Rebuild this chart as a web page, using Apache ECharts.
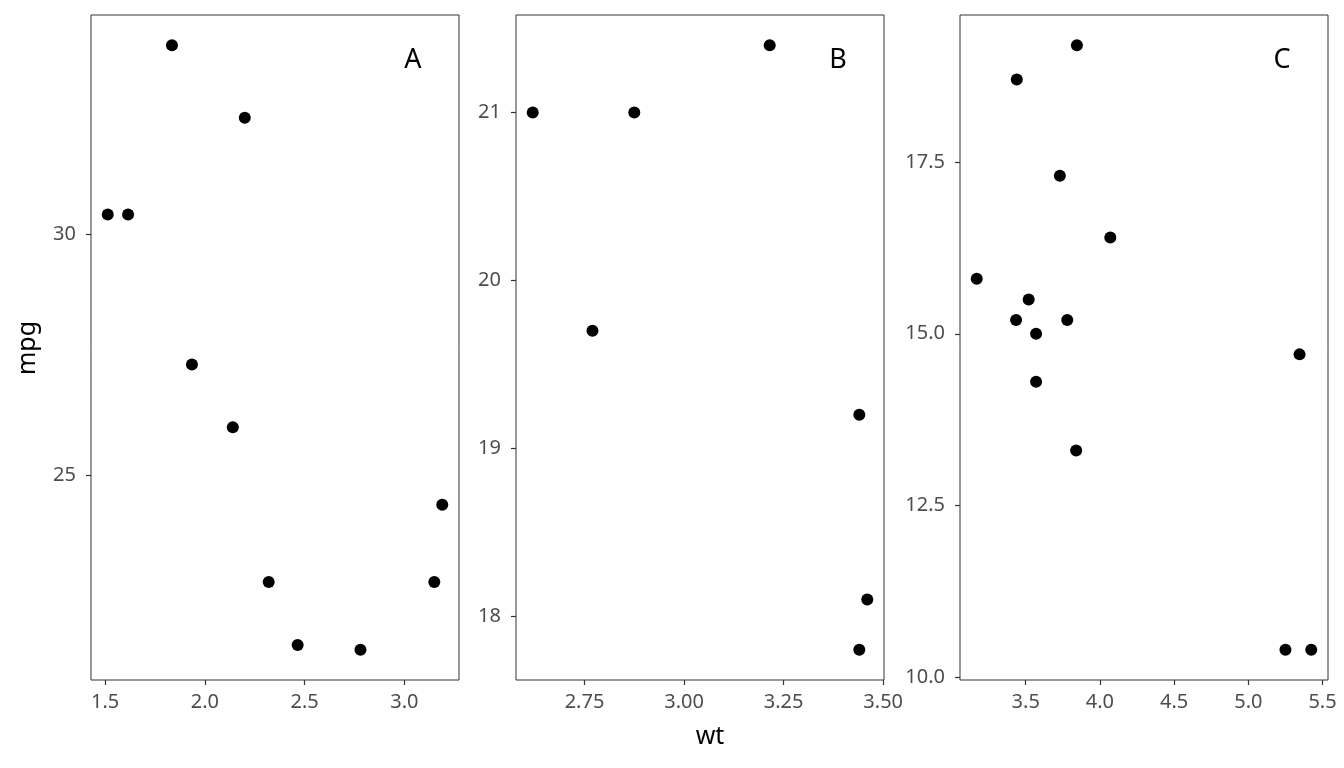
<!DOCTYPE html>
<html>
<head>
<meta charset="utf-8">
<script src="https://cdn.jsdelivr.net/npm/echarts@6/dist/echarts.min.js"></script>
<style>
  html, body { margin: 0; padding: 0; background: #fff; }
  #container { width: 1344px; height: 768px; }
</style>
</head>
<body>
<div id="container"></div>
<script>
// mtcars, wt vs mpg, one panel per cylinder group
var wtA = [2.32, 3.19, 3.15, 2.2, 1.615, 1.835, 2.465, 1.935, 2.14, 1.513, 2.78];
var mpgA = [22.8, 24.4, 22.8, 32.4, 30.4, 33.9, 21.5, 27.3, 26.0, 30.4, 21.4];
var wtB = [2.62, 2.875, 3.215, 3.46, 3.44, 3.44, 2.77];
var mpgB = [21.0, 21.0, 21.4, 18.1, 19.2, 17.8, 19.7];
var wtC = [3.44, 3.57, 4.07, 3.73, 3.78, 5.25, 5.424, 5.345, 3.52, 3.435, 3.84, 3.845, 3.17, 3.57];
var mpgC = [18.7, 14.3, 16.4, 17.3, 15.2, 10.4, 10.4, 14.7, 15.5, 15.2, 13.3, 19.2, 15.8, 15.0];
var panelNames = ['A', 'B', 'C'];

var xTicksA = [1.5, 2.0, 2.5, 3.0];
var yTicksA = [25, 30];
var xTicksB = [2.75, 3.00, 3.25, 3.50];
var yTicksB = [18, 19, 20, 21];
var xTicksC = [3.5, 4.0, 4.5, 5.0, 5.5];
var yTicksC = [10.0, 12.5, 15.0, 17.5];

var myChart = echarts.init(document.getElementById('container'));
var font = '"Noto Sans", "Open Sans", sans-serif';

// ggplot style 5% expansion on each side
function range(arr) {
  var lo = Math.min.apply(null, arr), hi = Math.max.apply(null, arr);
  var pad = (hi - lo) * 0.05;
  return [lo - pad, hi + pad];
}
function zip(xs, ys) {
  var out = [];
  for (var i = 0; i < xs.length; i++) out.push([xs[i], ys[i]]);
  return out;
}

var panels = [
  { wt: wtA, mpg: mpgA, xt: xTicksA, yt: yTicksA, xd: 1, yd: 0, left: 91 },
  { wt: wtB, mpg: mpgB, xt: xTicksB, yt: yTicksB, xd: 2, yd: 0, left: 516 },
  { wt: wtC, mpg: mpgC, xt: xTicksC, yt: yTicksC, xd: 1, yd: 1, left: 960 }
];

var grids = [], xAxes = [], yAxes = [], series = [], graphics = [];
panels.forEach(function (p, i) {
  var xr = range(p.wt), yr = range(p.mpg);
  grids.push({
    left: p.left, top: 15, width: 368, height: 665,
    show: true, borderColor: '#333', borderWidth: 1, backgroundColor: '#fff'
  });
  var common = function (ticks, dec, margin) {
    return {
      axisLine: { show: false },
      splitLine: { show: false },
      axisTick: { show: true, length: 5, customValues: ticks, lineStyle: { color: '#333', width: 1.2 } },
      axisLabel: {
        customValues: ticks, color: '#4d4d4d', fontSize: 20, fontFamily: font, margin: margin,
        formatter: function (v) { return Number(v).toFixed(dec); }
      }
    };
  };
  xAxes.push(Object.assign({ type: 'value', gridIndex: i, min: xr[0], max: xr[1] }, common(p.xt, p.xd, 12)));
  yAxes.push(Object.assign({ type: 'value', gridIndex: i, min: yr[0], max: yr[1] }, common(p.yt, p.yd, 15)));
  series.push({
    type: 'scatter', xAxisIndex: i, yAxisIndex: i,
    symbolSize: 12, itemStyle: { color: '#000', opacity: 1 },
    data: zip(p.wt, p.mpg)
  });
  graphics.push({
    type: 'text', x: p.left + 368 - 46, y: 60,
    style: { text: panelNames[i], fontSize: 27, fontFamily: font, fill: '#000', align: 'center', verticalAlign: 'middle' }
  });
});

graphics.push({
  type: 'text', x: 710, y: 737,
  style: { text: 'wt', fontSize: 25, fontFamily: font, fill: '#000', align: 'center', verticalAlign: 'middle' }
});
graphics.push({
  type: 'text', x: 28, y: 348, rotation: Math.PI / 2,
  style: { text: 'mpg', fontSize: 25, fontFamily: font, fill: '#000', align: 'center', verticalAlign: 'middle' }
});

var option = {
  backgroundColor: '#fff',
  animation: false,
  grid: grids,
  xAxis: xAxes,
  yAxis: yAxes,
  series: series,
  graphic: graphics
};
myChart.setOption(option);
</script>
</body>
</html>
